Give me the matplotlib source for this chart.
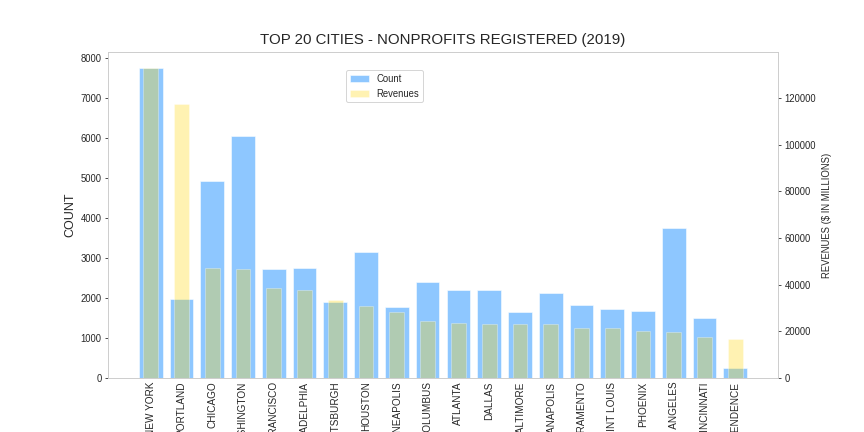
import numpy as np
import matplotlib
matplotlib.use("Agg")
import matplotlib.pyplot as plt
import seaborn as sns

cities = ["NEW YORK", "PORTLAND", "CHICAGO", "WASHINGTON", "SAN FRANCISCO",
          "PHILADELPHIA", "PITTSBURGH", "HOUSTON", "MINNEAPOLIS", "COLUMBUS",
          "ATLANTA", "DALLAS", "BALTIMORE", "INDIANAPOLIS", "SACRAMENTO",
          "SAINT LOUIS", "PHOENIX", "LOS ANGELES", "CINCINNATI", "INDEPENDENCE"]
counts = [7750, 1975, 4925, 6050, 2725, 2750, 1900, 3150, 1775, 2400,
          2200, 2200, 1650, 2125, 1825, 1725, 1675, 3750, 1500, 250]
revenues = [133000, 117300, 47000, 46600, 38400, 37600, 33300, 30700, 28200, 24300,
            23400, 23000, 23000, 23000, 21300, 21300, 20000, 19600, 17400, 16600]

sns.set_style("white")
plt.rcParams['font.family'] = ['Liberation Sans', 'DejaVu Sans']

fig = plt.figure(figsize=(12, 6), dpi=72)
ax = fig.add_axes([108 / 864, 54 / 432, 670 / 864, 326 / 432])
ax2 = ax.twinx()

x = np.arange(len(cities))
b1 = ax.bar(x, counts, width=0.77, color='dodgerblue', alpha=0.5, label='Count')
b2 = ax2.bar(x, revenues, width=0.48, color='gold', alpha=0.3,
             edgecolor='white', linewidth=1, label='Revenues')

ax.set_xlim(-1.39, 20.39)
ax.set_xticks(x)
ax.set_xticklabels(cities, rotation=90, fontsize=10, color='.15')
ax.set_ylabel('COUNT', fontsize=12.5, color='.15')
ax2.set_ylabel('REVENUES ($ IN MILLIONS)', fontsize=9.5, color='.15', labelpad=6)
ax.set_title('TOP 20 CITIES - NONPROFITS REGISTERED (2019)', fontsize=15, color='.15', pad=8)

for a in (ax, ax2):
    a.tick_params(axis='y', length=3, labelsize=9.5, colors='.15')
    a.tick_params(axis='x', length=0)
    for s in a.spines.values():
        s.set_color('.8')

ax.legend([b1, b2], ['Count', 'Revenues'], loc='upper left',
          bbox_to_anchor=((346 - 108) / 670, (378 - 70) / 326), borderaxespad=0,
          fontsize=9.5, frameon=True, edgecolor='.8')

fig.savefig('out.png', dpi=72)
